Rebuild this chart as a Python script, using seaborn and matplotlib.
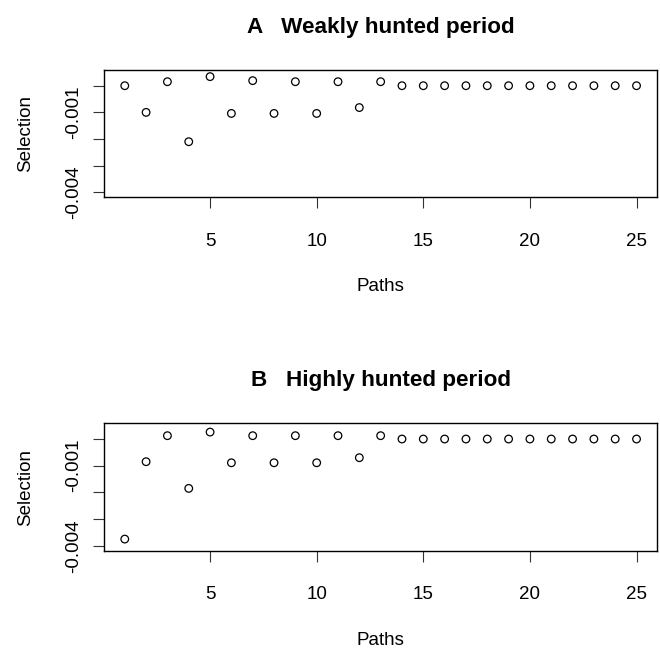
import numpy as np
import pandas as pd
import matplotlib
matplotlib.use("Agg")
import matplotlib.pyplot as plt
import seaborn as sns

sns.set_style("white")
plt.rcParams['font.family'] = ['Liberation Sans', 'DejaVu Sans']
plt.rcParams['text.color'] = 'black'
plt.rcParams['axes.labelcolor'] = 'black'
plt.rcParams['xtick.color'] = 'black'
plt.rcParams['ytick.color'] = 'black'

paths = list(range(1, 26))
weakly = [0.0, -0.00100, 0.00015, -0.00210, 0.00034, -0.00104, 0.00019, -0.00104,
          0.00015, -0.00104, 0.00015, -0.00082, 0.00015,
          0.0, 0.0, 0.0, 0.0, 0.0, 0.0, 0.0, 0.0, 0.0, 0.0, 0.0, 0.0]
highly = [-0.00375, -0.00085, 0.000125, -0.00185, 0.00026, -0.00089, 0.000125, -0.00089,
          0.000125, -0.00089, 0.000125, -0.00070, 0.000125,
          0.0, 0.0, 0.0, 0.0, 0.0, 0.0, 0.0, 0.0, 0.0, 0.0, 0.0, 0.0]
titles = ["A   Weakly hunted period", "B   Highly hunted period"]
xticks = [5, 10, 15, 20, 25]
yticks = [0.0, -0.001, -0.002, -0.003, -0.004]
ytick_labels = ["", "-0.001", "", "", "-0.004"]

W, H = 660, 648
fig = plt.figure(figsize=(W / 100, H / 100), dpi=100)

def ax_rect(left, top, right, bottom):
    return [left / W, 1 - bottom / H, (right - left) / W, (bottom - top) / H]

axes = [fig.add_axes(ax_rect(104.3, 70.0, 657.0, 197.3)),
        fig.add_axes(ax_rect(104.3, 423.3, 657.0, 550.7))]

FS = 13.5
for ax, vals, title in zip(axes, [weakly, highly], titles):
    df = pd.DataFrame({"Paths": paths, "Selection": vals})
    sns.scatterplot(data=df, x="Paths", y="Selection", ax=ax, s=30,
                    facecolor="none", edgecolor="black", linewidth=0.9, legend=False)
    for c in ax.collections:
        c.set_facecolor("none")
        c.set_edgecolor("black")
    ax.set_xlim(0.04, 25.96)
    ax.set_ylim(-0.004185, 0.000589)
    ax.set_xticks(xticks)
    ax.set_xticklabels([str(t) for t in xticks], fontsize=FS)
    ax.set_yticks(yticks)
    ax.set_yticklabels(ytick_labels, fontsize=FS, rotation=90, va="center")
    ax.tick_params(axis="both", direction="out", length=8, width=0.8, color="#333333",
                   left=True, bottom=True, labelcolor="black")
    ax.tick_params(axis="x", pad=17.5)
    ax.tick_params(axis="y", pad=8)
    for sp in ax.spines.values():
        sp.set_visible(True)
        sp.set_linewidth(1.0)
        sp.set_color("black")
    ax.set_xlabel("Paths", fontsize=FS, labelpad=20.5, color="black")
    ax.set_ylabel("Selection", fontsize=FS, labelpad=22, color="black")
    ax.set_title(title, fontsize=16.2, fontweight="bold", pad=27, color="black")

fig.savefig("out.png", dpi=100, facecolor="white")
